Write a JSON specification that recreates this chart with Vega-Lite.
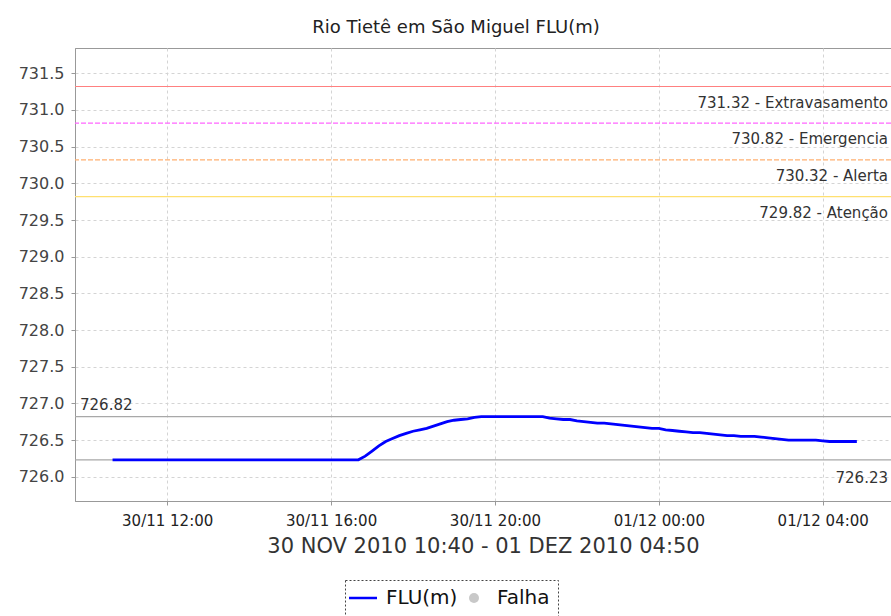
{
  "$schema": "https://vega.github.io/schema/vega-lite/v6.json",
  "width": 816,
  "height": 453,
  "autosize": {"type": "none"},
  "padding": {"left": 75, "top": 48, "right": 0, "bottom": 115},
  "background": "white",
  "config": {
    "font": "DejaVu Sans",
    "view": {"stroke": "#999999", "strokeWidth": 1},
    "axis": {
      "labelFont": "DejaVu Sans",
      "labelColor": "#444444",
      "domainColor": "#999999",
      "tickColor": "#999999",
      "tickSize": 4,
      "gridColor": "#d4d4d4",
      "gridDash": [3, 3],
      "gridWidth": 1
    }
  },
  "title": {
    "text": "Rio Tietê em São Miguel FLU(m)",
    "fontSize": 18,
    "fontWeight": "normal",
    "color": "#222222",
    "font": "DejaVu Sans",
    "anchor": "middle",
    "dx": -27,
    "offset": 11
  },
  "datasets": {
    "refs": [
      {"value": 731.32, "name": "Extravasamento", "label": "731.32 - Extravasamento", "kind": "limit"},
      {"value": 730.82, "name": "Emergencia", "label": "730.82 - Emergencia", "kind": "limit"},
      {"value": 730.32, "name": "Alerta", "label": "730.32 - Alerta", "kind": "limit"},
      {"value": 729.82, "name": "Atenção", "label": "729.82 - Atenção", "kind": "limit"},
      {"value": 726.82, "name": "Máximo", "label": "726.82", "kind": "max"},
      {"value": 726.23, "name": "Mínimo", "label": "726.23", "kind": "min"}
    ],
    "flu": [
      {"t": "2010-11-30T10:40", "v": 726.23, "s": "FLU(m)"},
      {"t": "2010-11-30T10:50", "v": 726.23, "s": "FLU(m)"},
      {"t": "2010-11-30T11:00", "v": 726.23, "s": "FLU(m)"},
      {"t": "2010-11-30T11:10", "v": 726.23, "s": "FLU(m)"},
      {"t": "2010-11-30T11:20", "v": 726.23, "s": "FLU(m)"},
      {"t": "2010-11-30T11:30", "v": 726.23, "s": "FLU(m)"},
      {"t": "2010-11-30T11:40", "v": 726.23, "s": "FLU(m)"},
      {"t": "2010-11-30T11:50", "v": 726.23, "s": "FLU(m)"},
      {"t": "2010-11-30T12:00", "v": 726.23, "s": "FLU(m)"},
      {"t": "2010-11-30T12:10", "v": 726.23, "s": "FLU(m)"},
      {"t": "2010-11-30T12:20", "v": 726.23, "s": "FLU(m)"},
      {"t": "2010-11-30T12:30", "v": 726.23, "s": "FLU(m)"},
      {"t": "2010-11-30T12:40", "v": 726.23, "s": "FLU(m)"},
      {"t": "2010-11-30T12:50", "v": 726.23, "s": "FLU(m)"},
      {"t": "2010-11-30T13:00", "v": 726.23, "s": "FLU(m)"},
      {"t": "2010-11-30T13:10", "v": 726.23, "s": "FLU(m)"},
      {"t": "2010-11-30T13:20", "v": 726.23, "s": "FLU(m)"},
      {"t": "2010-11-30T13:30", "v": 726.23, "s": "FLU(m)"},
      {"t": "2010-11-30T13:40", "v": 726.23, "s": "FLU(m)"},
      {"t": "2010-11-30T13:50", "v": 726.23, "s": "FLU(m)"},
      {"t": "2010-11-30T14:00", "v": 726.23, "s": "FLU(m)"},
      {"t": "2010-11-30T14:10", "v": 726.23, "s": "FLU(m)"},
      {"t": "2010-11-30T14:20", "v": 726.23, "s": "FLU(m)"},
      {"t": "2010-11-30T14:30", "v": 726.23, "s": "FLU(m)"},
      {"t": "2010-11-30T14:40", "v": 726.23, "s": "FLU(m)"},
      {"t": "2010-11-30T14:50", "v": 726.23, "s": "FLU(m)"},
      {"t": "2010-11-30T15:00", "v": 726.23, "s": "FLU(m)"},
      {"t": "2010-11-30T15:10", "v": 726.23, "s": "FLU(m)"},
      {"t": "2010-11-30T15:20", "v": 726.23, "s": "FLU(m)"},
      {"t": "2010-11-30T15:30", "v": 726.23, "s": "FLU(m)"},
      {"t": "2010-11-30T15:40", "v": 726.23, "s": "FLU(m)"},
      {"t": "2010-11-30T15:50", "v": 726.23, "s": "FLU(m)"},
      {"t": "2010-11-30T16:00", "v": 726.23, "s": "FLU(m)"},
      {"t": "2010-11-30T16:10", "v": 726.23, "s": "FLU(m)"},
      {"t": "2010-11-30T16:20", "v": 726.23, "s": "FLU(m)"},
      {"t": "2010-11-30T16:30", "v": 726.23, "s": "FLU(m)"},
      {"t": "2010-11-30T16:40", "v": 726.23, "s": "FLU(m)"},
      {"t": "2010-11-30T16:50", "v": 726.28, "s": "FLU(m)"},
      {"t": "2010-11-30T17:00", "v": 726.35, "s": "FLU(m)"},
      {"t": "2010-11-30T17:10", "v": 726.42, "s": "FLU(m)"},
      {"t": "2010-11-30T17:20", "v": 726.48, "s": "FLU(m)"},
      {"t": "2010-11-30T17:30", "v": 726.52, "s": "FLU(m)"},
      {"t": "2010-11-30T17:40", "v": 726.56, "s": "FLU(m)"},
      {"t": "2010-11-30T17:50", "v": 726.59, "s": "FLU(m)"},
      {"t": "2010-11-30T18:00", "v": 726.62, "s": "FLU(m)"},
      {"t": "2010-11-30T18:10", "v": 726.64, "s": "FLU(m)"},
      {"t": "2010-11-30T18:20", "v": 726.66, "s": "FLU(m)"},
      {"t": "2010-11-30T18:30", "v": 726.69, "s": "FLU(m)"},
      {"t": "2010-11-30T18:40", "v": 726.72, "s": "FLU(m)"},
      {"t": "2010-11-30T18:50", "v": 726.75, "s": "FLU(m)"},
      {"t": "2010-11-30T19:00", "v": 726.77, "s": "FLU(m)"},
      {"t": "2010-11-30T19:10", "v": 726.78, "s": "FLU(m)"},
      {"t": "2010-11-30T19:20", "v": 726.79, "s": "FLU(m)"},
      {"t": "2010-11-30T19:30", "v": 726.81, "s": "FLU(m)"},
      {"t": "2010-11-30T19:40", "v": 726.82, "s": "FLU(m)"},
      {"t": "2010-11-30T19:50", "v": 726.82, "s": "FLU(m)"},
      {"t": "2010-11-30T20:00", "v": 726.82, "s": "FLU(m)"},
      {"t": "2010-11-30T20:10", "v": 726.82, "s": "FLU(m)"},
      {"t": "2010-11-30T20:20", "v": 726.82, "s": "FLU(m)"},
      {"t": "2010-11-30T20:30", "v": 726.82, "s": "FLU(m)"},
      {"t": "2010-11-30T20:40", "v": 726.82, "s": "FLU(m)"},
      {"t": "2010-11-30T20:50", "v": 726.82, "s": "FLU(m)"},
      {"t": "2010-11-30T21:00", "v": 726.82, "s": "FLU(m)"},
      {"t": "2010-11-30T21:10", "v": 726.82, "s": "FLU(m)"},
      {"t": "2010-11-30T21:20", "v": 726.80, "s": "FLU(m)"},
      {"t": "2010-11-30T21:30", "v": 726.79, "s": "FLU(m)"},
      {"t": "2010-11-30T21:40", "v": 726.78, "s": "FLU(m)"},
      {"t": "2010-11-30T21:50", "v": 726.78, "s": "FLU(m)"},
      {"t": "2010-11-30T22:00", "v": 726.76, "s": "FLU(m)"},
      {"t": "2010-11-30T22:10", "v": 726.75, "s": "FLU(m)"},
      {"t": "2010-11-30T22:20", "v": 726.74, "s": "FLU(m)"},
      {"t": "2010-11-30T22:30", "v": 726.73, "s": "FLU(m)"},
      {"t": "2010-11-30T22:40", "v": 726.73, "s": "FLU(m)"},
      {"t": "2010-11-30T22:50", "v": 726.72, "s": "FLU(m)"},
      {"t": "2010-11-30T23:00", "v": 726.71, "s": "FLU(m)"},
      {"t": "2010-11-30T23:10", "v": 726.70, "s": "FLU(m)"},
      {"t": "2010-11-30T23:20", "v": 726.69, "s": "FLU(m)"},
      {"t": "2010-11-30T23:30", "v": 726.68, "s": "FLU(m)"},
      {"t": "2010-11-30T23:40", "v": 726.67, "s": "FLU(m)"},
      {"t": "2010-11-30T23:50", "v": 726.66, "s": "FLU(m)"},
      {"t": "2010-12-01T00:00", "v": 726.66, "s": "FLU(m)"},
      {"t": "2010-12-01T00:10", "v": 726.64, "s": "FLU(m)"},
      {"t": "2010-12-01T00:20", "v": 726.63, "s": "FLU(m)"},
      {"t": "2010-12-01T00:30", "v": 726.62, "s": "FLU(m)"},
      {"t": "2010-12-01T00:40", "v": 726.61, "s": "FLU(m)"},
      {"t": "2010-12-01T00:50", "v": 726.60, "s": "FLU(m)"},
      {"t": "2010-12-01T01:00", "v": 726.60, "s": "FLU(m)"},
      {"t": "2010-12-01T01:10", "v": 726.59, "s": "FLU(m)"},
      {"t": "2010-12-01T01:20", "v": 726.58, "s": "FLU(m)"},
      {"t": "2010-12-01T01:30", "v": 726.57, "s": "FLU(m)"},
      {"t": "2010-12-01T01:40", "v": 726.56, "s": "FLU(m)"},
      {"t": "2010-12-01T01:50", "v": 726.56, "s": "FLU(m)"},
      {"t": "2010-12-01T02:00", "v": 726.55, "s": "FLU(m)"},
      {"t": "2010-12-01T02:10", "v": 726.55, "s": "FLU(m)"},
      {"t": "2010-12-01T02:20", "v": 726.55, "s": "FLU(m)"},
      {"t": "2010-12-01T02:30", "v": 726.54, "s": "FLU(m)"},
      {"t": "2010-12-01T02:40", "v": 726.53, "s": "FLU(m)"},
      {"t": "2010-12-01T02:50", "v": 726.52, "s": "FLU(m)"},
      {"t": "2010-12-01T03:00", "v": 726.51, "s": "FLU(m)"},
      {"t": "2010-12-01T03:10", "v": 726.50, "s": "FLU(m)"},
      {"t": "2010-12-01T03:20", "v": 726.50, "s": "FLU(m)"},
      {"t": "2010-12-01T03:30", "v": 726.50, "s": "FLU(m)"},
      {"t": "2010-12-01T03:40", "v": 726.50, "s": "FLU(m)"},
      {"t": "2010-12-01T03:50", "v": 726.50, "s": "FLU(m)"},
      {"t": "2010-12-01T04:00", "v": 726.49, "s": "FLU(m)"},
      {"t": "2010-12-01T04:10", "v": 726.48, "s": "FLU(m)"},
      {"t": "2010-12-01T04:20", "v": 726.48, "s": "FLU(m)"},
      {"t": "2010-12-01T04:30", "v": 726.48, "s": "FLU(m)"},
      {"t": "2010-12-01T04:40", "v": 726.48, "s": "FLU(m)"},
      {"t": "2010-12-01T04:50", "v": 726.48, "s": "FLU(m)"}
    ]
  },
  "resolve": {"scale": {"color": "independent", "strokeDash": "independent"}},
  "layer": [
    {
      "data": {"name": "refs"},
      "mark": {"type": "rule", "strokeWidth": 1.2},
      "encoding": {
        "y": {
          "field": "value", "type": "quantitative",
          "scale": {"domain": [725.669, 731.845], "nice": false, "zero": false},
          "axis": {
            "title": null,
            "values": [726, 726.5, 727, 727.5, 728, 728.5, 729, 729.5, 730, 730.5, 731, 731.5],
            "format": ".1f",
            "labelFontSize": 16,
            "labelPadding": 7,
            "grid": true
          }
        },
        "color": {
          "field": "name", "type": "nominal", "legend": null,
          "scale": {
            "domain": ["Extravasamento", "Emergencia", "Alerta", "Atenção", "Máximo", "Mínimo"],
            "range": ["#ff8080", "#ff66ff", "#ffb070", "#ffe070", "#a8a8a8", "#a8a8a8"]
          }
        },
        "strokeDash": {
          "field": "name", "type": "nominal", "legend": null,
          "scale": {
            "domain": ["Extravasamento", "Emergencia", "Alerta", "Atenção", "Máximo", "Mínimo"],
            "range": [[1, 0], [5, 2], [5, 2], [1, 0], [1, 0], [1, 0]]
          }
        }
      }
    },
    {
      "data": {"name": "refs"},
      "transform": [{"filter": "datum.kind === 'limit'"}],
      "mark": {"type": "text", "align": "right", "baseline": "middle", "dx": -3, "dy": 16, "fontSize": 15, "color": "#333333", "font": "DejaVu Sans"},
      "encoding": {
        "x": {"value": "width"},
        "y": {"field": "value", "type": "quantitative"},
        "text": {"field": "label"}
      }
    },
    {
      "data": {"name": "refs"},
      "transform": [{"filter": "datum.kind === 'max'"}],
      "mark": {"type": "text", "align": "left", "baseline": "middle", "dx": 5, "dy": -12, "fontSize": 15, "color": "#333333", "font": "DejaVu Sans"},
      "encoding": {
        "x": {"value": 0},
        "y": {"field": "value", "type": "quantitative"},
        "text": {"field": "label"}
      }
    },
    {
      "data": {"name": "refs"},
      "transform": [{"filter": "datum.kind === 'min'"}],
      "mark": {"type": "text", "align": "right", "baseline": "middle", "dx": -3, "dy": 18, "fontSize": 15, "color": "#333333", "font": "DejaVu Sans"},
      "encoding": {
        "x": {"value": "width"},
        "y": {"field": "value", "type": "quantitative"},
        "text": {"field": "label"}
      }
    },
    {
      "data": {"name": "flu"},
      "mark": {"type": "line", "strokeWidth": 2.8},
      "encoding": {
        "x": {
          "field": "t", "type": "temporal",
          "scale": {"domain": [
            {"year": 2010, "month": 11, "date": 30, "hours": 9, "minutes": 45},
            {"year": 2010, "month": 12, "date": 1, "hours": 5, "minutes": 40}
          ]},
          "axis": {
            "title": "30 NOV 2010 10:40 - 01 DEZ 2010 04:50",
            "titleFontSize": 21,
            "titleFontWeight": "normal",
            "titleColor": "#333333",
            "titlePadding": 7,
            "values": [
              {"year": 2010, "month": 11, "date": 30, "hours": 12},
              {"year": 2010, "month": 11, "date": 30, "hours": 16},
              {"year": 2010, "month": 11, "date": 30, "hours": 20},
              {"year": 2010, "month": 12, "date": 1, "hours": 0},
              {"year": 2010, "month": 12, "date": 1, "hours": 4}
            ],
            "format": "%d/%m %H:%M",
            "labelFontSize": 15,
            "labelColor": "#222222",
            "labelPadding": 8,
            "grid": true
          }
        },
        "y": {"field": "v", "type": "quantitative"},
        "color": {
          "field": "s", "type": "nominal",
          "scale": {"domain": ["FLU(m)", "Falha"], "range": ["#0000ff", "#c8c8c8"]},
          "legend": {
            "title": null,
            "orient": "none",
            "legendX": 270,
            "legendY": 532,
            "direction": "horizontal",
            "strokeColor": "#444444",
            "padding": 8,
            "labelFontSize": 20,
            "labelColor": "#111111",
            "labelFont": "DejaVu Sans",
            "symbolSize": 784,
            "symbolStrokeWidth": 2.5,
            "symbolOffset": 0,
            "labelOffset": 13,
            "columnPadding": 6,
            "encode": {
              "legend": {"update": {"strokeDash": {"value": [2, 2]}}},
              "symbols": {"update": {
                "shape": {"signal": "datum.value === 'FLU(m)' ? 'stroke' : 'circle'"},
                "size": {"signal": "datum.value === 'FLU(m)' ? 784 : 100"},
                "fill": {"signal": "datum.value === 'FLU(m)' ? 'transparent' : '#c8c8c8'"},
                "stroke": {"signal": "datum.value === 'FLU(m)' ? '#0000ff' : '#c8c8c8'"},
                "strokeWidth": {"signal": "datum.value === 'FLU(m)' ? 2.5 : 0"}
              }}
            }
          }
        }
      }
    }
  ]
}
